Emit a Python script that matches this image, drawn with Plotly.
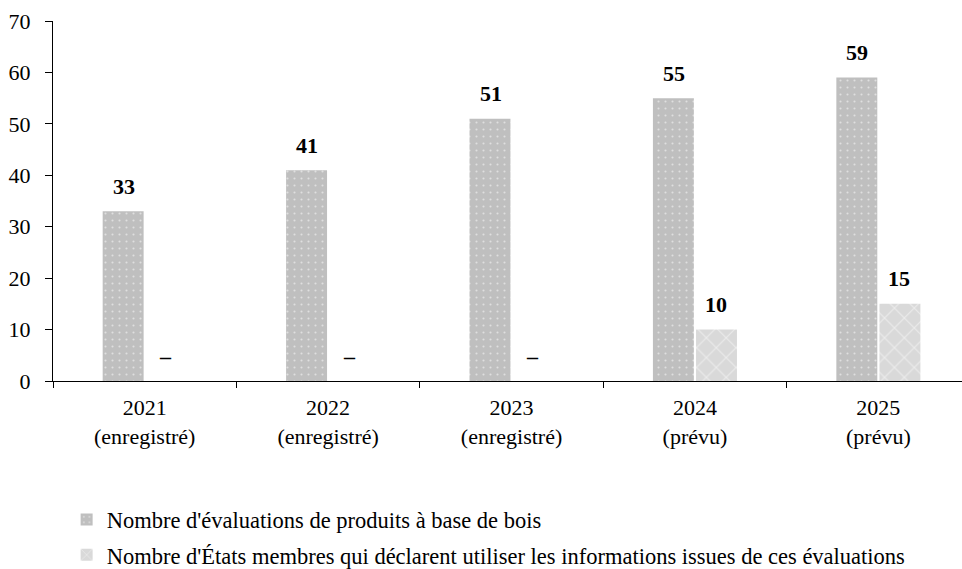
import plotly.graph_objects as go

categories = ["2021<br>(enregistré)", "2022<br>(enregistré)", "2023<br>(enregistré)",
              "2024<br>(prévu)", "2025<br>(prévu)"]
evaluations = [33, 41, 51, 55, 59]
etats_membres = [0, 0, 0, 10, 15]
etats_labels = ["–", "–", "–", "10", "15"]
eval_labels = [str(v) for v in evaluations]

series_names = [
    "Nombre d'évaluations de produits à base de bois",
    "Nombre d'États membres qui déclarent utiliser les informations issues de ces évaluations",
]

FONT = "Liberation Serif, Times New Roman, serif"

fig = go.Figure()
fig.add_trace(go.Bar(
    x=categories, y=evaluations, name=series_names[0], legendgroup="a",
    marker=dict(color="#bfbfbf", line=dict(width=0),
                pattern=dict(shape=".", fgcolor="white", bgcolor="#bfbfbf",
                             size=7, solidity=0.07)),
))
fig.add_trace(go.Bar(
    x=categories, y=etats_membres, name=series_names[1], legendgroup="b",
    marker=dict(color="#d9d9d9", line=dict(width=0),
                pattern=dict(shape="x", fgcolor="white", bgcolor="#d9d9d9",
                             size=14, solidity=0.15)),
))

def label(cat, v, t, xshift):
    return dict(x=cat, y=v, xref="x", yref="y", text=t, showarrow=False,
                xshift=xshift, yshift=25, yanchor="middle",
                font=dict(family=FONT, size=22, color="black", weight="bold"))

annotations = [label(c, v, t, -21) for c, v, t in zip(categories, evaluations, eval_labels)]
annotations += [label(c, v, t, 21) for c, v, t in zip(categories, etats_membres, etats_labels)]

fig.update_layout(
    width=962, height=569,
    margin=dict(l=53, r=0, t=21, b=188, autoexpand=False),
    paper_bgcolor="white", plot_bgcolor="white",
    font=dict(family=FONT, size=22, color="black"),
    barmode="group", bargap=0.53, bargroupgap=0.05,
    showlegend=True,
    legend=dict(orientation="v", x=0.015, xanchor="left", y=0.124, yanchor="top",
                yref="container", tracegroupgap=3, traceorder="grouped",
                font=dict(family=FONT, size=22.5, color="black"),
                itemwidth=30),
    annotations=annotations,
)
fig.update_xaxes(
    range=[-0.5, 4.456], showline=True, linecolor="black", linewidth=1,
    ticks="outside", tickson="boundaries", ticklen=6, tickcolor="black",
    showgrid=False, ticklabelstandoff=7,
    tickfont=dict(family=FONT, size=22, color="black"),
)
fig.update_yaxes(
    range=[0, 70], dtick=10, showline=True, linecolor="black", linewidth=1,
    ticks="outside", ticklen=7, tickcolor="black", showgrid=False, zeroline=False,
    ticklabelstandoff=10, tickfont=dict(family=FONT, size=22, color="black"),
)

fig.write_html(
    "out.html",
    config={"displayModeBar": False},
    post_script="document.body.style.margin='0';document.body.style.overflow='hidden';",
)
